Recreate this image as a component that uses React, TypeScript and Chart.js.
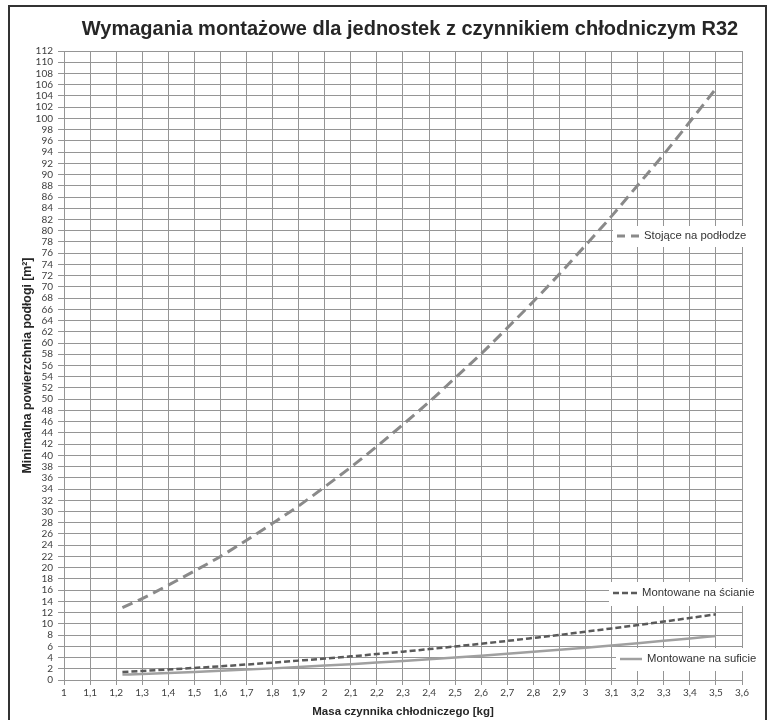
import React, { useEffect, useRef } from 'react';
import { Chart, registerables } from 'chart.js';

Chart.register(...registerables);

// ---- data ----
const chartTitle = 'Wymagania montażowe dla jednostek z czynnikiem chłodniczym R32';
const xAxisTitle = 'Masa czynnika chłodniczego [kg]';
const yAxisTitle = 'Minimalna powierzchnia podłogi [m²]';
const seriesNames = ['Stojące na podłodze', 'Montowane na ścianie', 'Montowane na suficie'];

const massKg = [1.224, 1.3, 1.4, 1.5, 1.6, 1.7, 1.8, 1.9, 2.0, 2.1, 2.2, 2.3, 2.4, 2.5, 2.6, 2.7, 2.8, 2.9, 3.0, 3.1, 3.2, 3.3, 3.4, 3.5];
const floorArea = [12.9, 14.5, 16.9, 19.4, 22.0, 24.9, 27.9, 31.0, 34.4, 37.9, 41.6, 45.5, 49.5, 53.8, 58.1, 62.7, 67.4, 72.3, 77.4, 82.6, 88.1, 93.6, 99.4, 105.3];
const wallArea = [1.43, 1.61, 1.87, 2.15, 2.44, 2.76, 3.09, 3.45, 3.82, 4.21, 4.62, 5.05, 5.5, 5.97, 6.46, 6.96, 7.49, 8.03, 8.6, 9.18, 9.78, 10.4, 11.04, 11.7];
const ceilingArea = [0.96, 1.08, 1.25, 1.44, 1.64, 1.85, 2.07, 2.31, 2.56, 2.82, 3.1, 3.39, 3.69, 4.0, 4.33, 4.67, 5.02, 5.38, 5.76, 6.15, 6.55, 6.97, 7.4, 7.84];

const xMin = 1;
const xMax = 3.6;
const xStep = 0.1;
const yMin = 0;
const yMax = 112;
const yStep = 2;

// ---- styles ----
const seriesColors = ['#8a8a8a', '#5a5a5a', '#a0a0a0'];
const seriesDashes: number[][] = [[11, 6], [6, 3], []];
const seriesWidths = [3, 2.5, 2.5];
const gridColor = '#959595';
const tickFont = { family: 'Lato', size: 10 };
const tickColor = '#404040';
const xTitleFont = { family: '"Liberation Sans", Arial', size: 11.5, weight: 'bold' as const };
const yTitleFont = { family: '"Liberation Sans", Arial', size: 12.3, weight: 'bold' as const };

// legend placements (canvas px): box, sample line, text
const legendLayout = [
  { box: [603, 219, 147, 21], sample: [607, 629], y: 229 },
  { box: [599, 575, 154, 24], sample: [603, 627], y: 586 },
  { box: [606, 641, 150, 23], sample: [610, 632], y: 652 },
];

const titlePlugin = {
  id: 'customTitle',
  afterDraw(chart: any) {
    const { ctx, chartArea } = chart;
    ctx.save();
    ctx.font = 'bold 20px "Liberation Sans", Arial';
    ctx.fillStyle = '#262626';
    ctx.textAlign = 'center';
    ctx.textBaseline = 'middle';
    ctx.fillText(chartTitle, (chartArea.left + chartArea.right) / 2 + 7, 22);
    ctx.restore();
  },
};

const inlineLegendPlugin = {
  id: 'inlineLegend',
  afterDatasetsDraw(chart: any) {
    const { ctx } = chart;
    ctx.save();
    legendLayout.forEach((L, i) => {
      const [bx, by, bw, bh] = L.box;
      ctx.fillStyle = '#ffffff';
      ctx.fillRect(bx, by, bw, bh);
      ctx.strokeStyle = seriesColors[i];
      ctx.lineWidth = seriesWidths[i];
      ctx.setLineDash(i === 0 ? [8, 6] : seriesDashes[i]);
      ctx.beginPath();
      ctx.moveTo(L.sample[0], L.y);
      ctx.lineTo(L.sample[1], L.y);
      ctx.stroke();
      ctx.setLineDash([]);
      ctx.fillStyle = '#333333';
      ctx.font = '11.3px "Liberation Sans", Arial';
      ctx.textAlign = 'left';
      ctx.textBaseline = 'middle';
      ctx.fillText(seriesNames[i], L.sample[1] + 5, L.y);
    });
    ctx.restore();
  },
};

function fmt(v: number) {
  return String(Math.round(v * 10) / 10).replace('.', ',');
}

export default function App() {
  const canvasRef = useRef<HTMLCanvasElement | null>(null);

  useEffect(() => {
    if (!canvasRef.current) return;
    const values = [floorArea, wallArea, ceilingArea];
    const chart = new Chart(canvasRef.current, {
      type: 'line',
      data: {
        datasets: values.map((arr, i) => ({
          label: seriesNames[i],
          data: massKg.map((m, j) => ({ x: m, y: arr[j] })),
          borderColor: seriesColors[i],
          borderWidth: seriesWidths[i],
          borderDash: seriesDashes[i],
          pointRadius: 0,
          fill: false,
          cubicInterpolationMode: 'monotone' as const,
        })),
      },
      options: {
        responsive: false,
        animation: false,
        devicePixelRatio: 1,
        layout: { padding: { left: 0, right: 23, top: 44, bottom: 0 } },
        plugins: {
          legend: { display: false },
          title: { display: false },
          tooltip: { enabled: false },
        },
        scales: {
          x: {
            type: 'linear',
            min: xMin,
            max: xMax,
            ticks: {
              stepSize: xStep,
              autoSkip: false,
              maxRotation: 0,
              padding: 2,
              font: tickFont,
              color: tickColor,
              callback: (v: any) => fmt(Number(v)),
            },
            grid: { color: gridColor, tickLength: 5, lineWidth: 1 },
            border: { color: gridColor },
            title: {
              display: true,
              text: xAxisTitle,
              font: xTitleFont,
              color: '#262626',
              padding: { top: 0, bottom: 4 },
            },
            afterFit(scale: any) {
              scale.height = 43;
            },
          },
          y: {
            type: 'linear',
            min: yMin,
            max: yMax,
            ticks: {
              stepSize: yStep,
              autoSkip: false,
              padding: 5,
              font: tickFont,
              color: tickColor,
            },
            grid: { color: gridColor, tickLength: 6, lineWidth: 1 },
            border: { color: gridColor },
            title: {
              display: true,
              text: yAxisTitle,
              font: yTitleFont,
              color: '#262626',
              padding: { top: 10, bottom: 0 },
            },
            afterFit(scale: any) {
              scale.width = 54;
            },
          },
        },
      },
      plugins: [titlePlugin, inlineLegendPlugin],
    } as any);
    return () => chart.destroy();
  }, []);

  return (
    <div
      style={{
        position: 'absolute',
        left: 8,
        top: 5,
        width: 759,
        height: 725,
        boxSizing: 'border-box',
        border: '2px solid #333',
        background: '#fff',
        overflow: 'hidden',
      }}
    >
      <canvas ref={canvasRef} width={755} height={716} style={{ display: 'block' }} />
    </div>
  );
}
